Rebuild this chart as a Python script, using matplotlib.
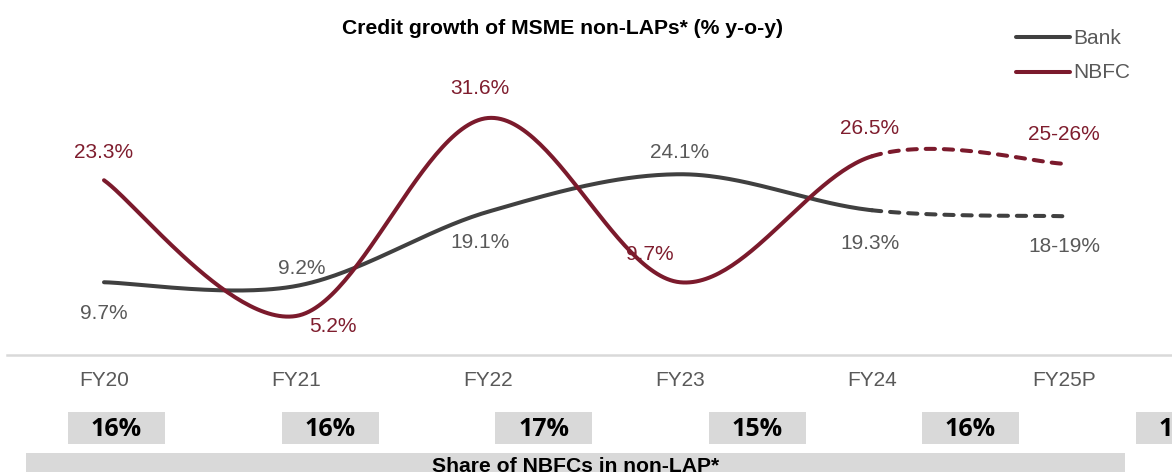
import matplotlib
matplotlib.use("Agg")
import matplotlib.pyplot as plt
from matplotlib.patches import Rectangle
from matplotlib.lines import Line2D
import numpy as np

plt.rcParams['font.family'] = ['Liberation Sans', 'DejaVu Sans']

# data
years = ['FY20', 'FY21', 'FY22', 'FY23', 'FY24', 'FY25P']
bank = [9.7, 9.2, 19.1, 24.1, 19.3, 18.5]
nbfc = [23.3, 5.2, 31.6, 9.7, 26.5, 25.5]
bank_lbl = ['9.7%', '9.2%', '19.1%', '24.1%', '19.3%', '18-19%']
nbfc_lbl = ['23.3%', '5.2%', '31.6%', '9.7%', '26.5%', '25-26%']
share = ['16%', '16%', '17%', '15%', '16%', '17%']

# label offsets (px) from each point
bank_off = [(0, -31), (6, 18), (-8, -31), (0, 22), (-2, -33), (0, -30)]
nbfc_off = [(0, 28), (37, -10), (-8, 29), (-30, 28), (-2, 28), (0, 29)]

W, H = 1172, 472
BANK_C = '#404040'
NBFC_C = '#7b1a2c'
BANK_T = '#595959'
NBFC_T = '#7f1d2e'


def smooth(y):
    # excel-like smoothed line: catmull-rom bezier per segment
    pts = np.column_stack([np.arange(len(y)), y]).astype(float)
    n = len(pts)
    segs = []
    t = np.linspace(0, 1, 60)[:, None]
    for i in range(n - 1):
        p0 = pts[max(i - 1, 0)]
        p1 = pts[i]
        p2 = pts[i + 1]
        p3 = pts[min(i + 2, n - 1)]
        c1 = p1 + (p2 - p0) / 6
        c2 = p2 - (p3 - p1) / 6
        seg = (1 - t) ** 3 * p1 + 3 * (1 - t) ** 2 * t * c1 + 3 * (1 - t) * t ** 2 * c2 + t ** 3 * p2
        segs.append(seg)
    return segs


fig = plt.figure(figsize=(W / 100, H / 100), dpi=100)
ax = fig.add_axes([0, (H - 355) / H, 1, 355 / H])
ax.set_xlim(-104 / 192, (W - 104) / 192)
ax.set_ylim(0, 355 / 7.5)
ax.axis('off')

# base line
ax.axhline(0, xmin=7 / W, xmax=1, color='#d9d9d9', lw=1.8, clip_on=False)

for vals, col in [(bank, BANK_C), (nbfc, NBFC_C)]:
    segs = smooth(vals)
    solid = np.vstack(segs[:-1])
    ax.plot(solid[:, 0], solid[:, 1], color=col, lw=2.9, solid_capstyle='round', clip_on=False)
    d = segs[-1]
    ax.plot(d[:, 0], d[:, 1], color=col, lw=2.9, dashes=(2.3, 2.2),
            dash_capstyle='round', clip_on=False)

for i, yr in enumerate(years):
    ax.annotate(yr, (i, 0), xytext=(0, -26), textcoords='offset pixels',
                ha='center', va='center', fontsize=15, color=BANK_T)
    ax.annotate(bank_lbl[i], (i, bank[i]), xytext=bank_off[i], textcoords='offset pixels',
                ha='center', va='center', fontsize=15, color=BANK_T)
    ax.annotate(nbfc_lbl[i], (i, nbfc[i]), xytext=nbfc_off[i], textcoords='offset pixels',
                ha='center', va='center', fontsize=15, color=NBFC_T)

# title
fig.text(563 / W, 1 - 28 / H, 'Credit growth of MSME non-LAPs* (% y-o-y)',
         ha='center', va='center', fontsize=15.2, fontweight='bold', color='black')

# legend
for k, (name, col) in enumerate([('Bank', BANK_C), ('NBFC', NBFC_C)]):
    yy = 1 - (37 + 35 * k) / H
    fig.add_artist(Line2D([1016 / W, 1070 / W], [yy, yy], color=col, lw=2.9,
                          solid_capstyle='round'))
    fig.text(1073 / W, yy - 1 / H, name, ha='left', va='center', fontsize=15, color=BANK_T)

# share boxes
bw, bh = 97, 32
for i, s in enumerate(share):
    cx = 116.5 + 213.5 * i
    fig.add_artist(Rectangle(((cx - bw / 2) / W, 1 - 444 / H), bw / W, bh / H,
                             facecolor='#d9d9d9', edgecolor='none'))
    fig.text(cx / W, 1 - 429 / H, s, ha='center', va='center', fontsize=18,
             fontweight='bold', family=['Open Sans', 'DejaVu Sans'], color='black')

fig.add_artist(Rectangle((26 / W, 0), (1125 - 26) / W, (H - 453) / H,
                         facecolor='#d9d9d9', edgecolor='none'))
fig.text(576 / W, 1 - 466 / H, 'Share of NBFCs in non-LAP*', ha='center', va='center',
         fontsize=15.2, fontweight='bold', color='black')

fig.savefig('out.png', dpi=100)
